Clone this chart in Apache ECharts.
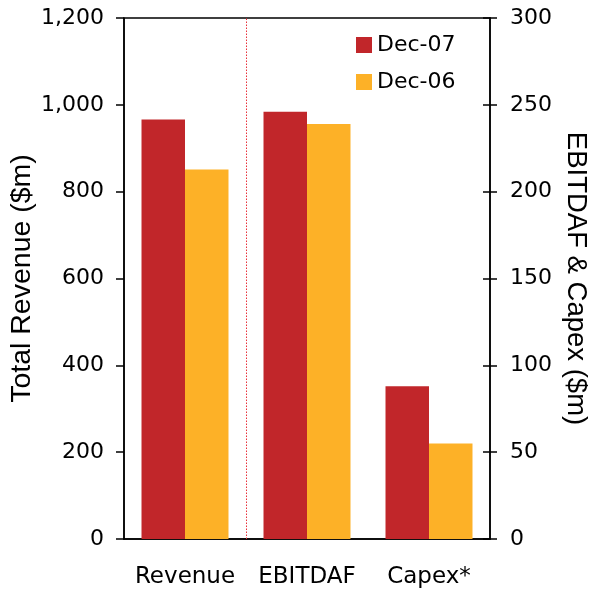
<!DOCTYPE html>
<html>
<head>
<meta charset="utf-8">
<script src="https://cdn.jsdelivr.net/npm/echarts@6/dist/echarts.min.js"></script>
<style>html,body{margin:0;padding:0;background:#fff}#c{width:591px;height:591px}</style>
</head>
<body>
<div id="c"></div>
<script>
const categories = ['Revenue', 'EBITDAF', 'Capex*'];
const seriesNames = ['Dec-07', 'Dec-06'];
// Revenue on left axis ($m)
const revenueDec07 = [966, '-', '-'];
const revenueDec06 = [851, '-', '-'];
// EBITDAF & Capex on right axis ($m)
const otherDec07 = ['-', 246, 88];
const otherDec06 = ['-', 239, 55];
const leftTicks = { min: 0, max: 1200, interval: 200 };
const rightTicks = { min: 0, max: 300, interval: 50 };
// separator between the Revenue group and the other two (category boundary index)
const separatorAt = 1;

const RED = '#C1262A', ORANGE = '#FDB127', SEP = '#E8313A';
const FONT = 'DejaVu Sans';
const NAMEFONT = 'Liberation Sans';
const chart = echarts.init(document.getElementById('c'));
const lbl = { color: '#000', fontFamily: FONT, fontSize: 22 };
const nameStyle = { color: '#000', fontFamily: NAMEFONT, fontSize: 27.5 };
chart.setOption({
  animation: false,
  grid: { left: 124, right: 101, top: 18, bottom: 52, show: true, borderColor: '#000', borderWidth: 1.5,
    containLabel: false, outerBoundsMode: 'none' },
  legend: {
    data: seriesNames, orient: 'vertical', left: 351, top: 29,
    itemWidth: 16, itemHeight: 16, itemGap: 15, icon: 'rect',
    textStyle: { color: '#000', fontFamily: FONT, fontSize: 22 }
  },
  xAxis: [
    { type: 'category', data: categories, position: 'bottom',
      axisLine: { lineStyle: { color: '#000', width: 1.5 } },
      axisTick: { length: 8, lineStyle: { color: '#000', width: 1.5 } },
      axisLabel: Object.assign({ margin: 27, interval: 0 }, lbl, { fontSize: 23 }) },
    { type: 'category', data: categories, position: 'bottom', show: false },
    { type: 'value', min: 0, max: categories.length, position: 'bottom', show: false }
  ],
  yAxis: [
    Object.assign({ type: 'value', position: 'left', name: 'Total Revenue ($m)',
      nameLocation: 'middle', nameGap: 87, nameRotate: 90, nameMoveOverlap: false,
      nameTextStyle: Object.assign({}, nameStyle, { fontSize: 28.5 }),
      axisLine: { show: true, lineStyle: { color: '#000', width: 1.5 } },
      axisTick: { show: true, length: 8, lineStyle: { color: '#000', width: 1.5 } },
      splitLine: { show: false },
      axisLabel: Object.assign({ margin: 20, formatter: v => v.toLocaleString('en-US') }, lbl) }, leftTicks),
    Object.assign({ type: 'value', position: 'right', name: 'EBITDAF & Capex ($m)',
      nameLocation: 'middle', nameGap: 72, nameRotate: -90, nameMoveOverlap: false, nameTextStyle: nameStyle,
      axisLine: { show: true, lineStyle: { color: '#000', width: 1.5 } },
      axisTick: { show: true, length: 7, lineStyle: { color: '#000', width: 1.5 } },
      splitLine: { show: false },
      axisLabel: Object.assign({ margin: 20 }, lbl) }, rightTicks),
    Object.assign({ type: 'value', position: 'right',
      axisLine: { show: false }, axisLabel: { show: false }, splitLine: { show: false },
      axisTick: { show: true, inside: true, length: 7, lineStyle: { color: '#000', width: 1.5 } } }, rightTicks)
  ],
  series: [
    { name: seriesNames[0], type: 'bar', xAxisIndex: 0, yAxisIndex: 0, data: revenueDec07,
      itemStyle: { color: RED }, barGap: '0%', barCategoryGap: '28.7%' },
    { name: seriesNames[1], type: 'bar', xAxisIndex: 0, yAxisIndex: 0, data: revenueDec06,
      itemStyle: { color: ORANGE }, barGap: '0%', barCategoryGap: '28.7%' },
    { name: seriesNames[0], type: 'bar', xAxisIndex: 1, yAxisIndex: 1, data: otherDec07,
      itemStyle: { color: RED }, barGap: '0%', barCategoryGap: '28.7%' },
    { name: seriesNames[1], type: 'bar', xAxisIndex: 1, yAxisIndex: 1, data: otherDec06,
      itemStyle: { color: ORANGE }, barGap: '0%', barCategoryGap: '28.7%' },
    { name: 'separator', type: 'line', xAxisIndex: 2, yAxisIndex: 0, data: [],
      showSymbol: false, silent: true, color: SEP,
      itemStyle: { color: SEP }, lineStyle: { color: SEP },
      markLine: { silent: true, symbol: 'none', label: { show: false },
        lineStyle: { color: SEP, type: [1.5, 1.5], width: 1, opacity: 1 },
        data: [{ xAxis: separatorAt, lineStyle: { color: SEP, type: [1.5, 1.5], width: 1 } }] } }
  ]
});
</script>
</body>
</html>
